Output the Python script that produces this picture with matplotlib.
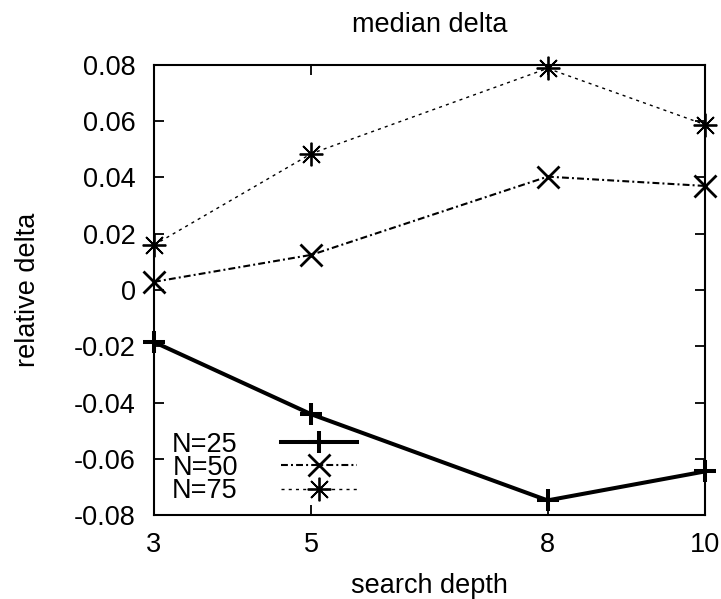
import numpy as np
import matplotlib.pyplot as plt
from matplotlib.ticker import FuncFormatter

plt.rcParams['font.family'] = ['Liberation Sans', 'DejaVu Sans']
plt.rcParams['axes.unicode_minus'] = False

# search depth values on the x axis
depth = [3, 5, 8, 10]
# relative delta per N
n25 = [-0.0185, -0.0442, -0.0748, -0.0645]
n50 = [0.0029, 0.0125, 0.0403, 0.0370]
n75 = [0.0160, 0.0485, 0.0788, 0.0588]
labels = ['N=25', 'N=50', 'N=75']
yticks = [-0.08, -0.06, -0.04, -0.02, 0, 0.02, 0.04, 0.06, 0.08]

FS = 19.5

fig = plt.figure(figsize=(7.21, 5.99), dpi=100)
ax = fig.add_axes([0.2136, 0.1402, 0.7642, 0.7513])

ax.plot(depth, n25, color='black', lw=2.9, marker='+', ms=16.5, mew=2.9,
        label=labels[0], clip_on=False)
ax.plot(depth, n50, color='black', lw=1.5, marker='x', ms=16, mew=2,
        dashes=[3.3, 1.5, 0.95, 1.5], label=labels[1], clip_on=False)
ax.plot(depth, n75, color='black', lw=1, marker=(8, 2, 0), ms=17, mew=1.3,
        dashes=[2.2, 3], label=labels[2], clip_on=False)

ax.set_xlim(3, 10)
ax.set_ylim(-0.08, 0.08)
ax.set_xticks(depth)
ax.set_yticks(yticks)
ax.yaxis.set_major_formatter(FuncFormatter(lambda v, p: '%g' % round(v, 4)))
ax.tick_params(direction='in', length=7, width=1.3, top=True, right=True,
               labelsize=FS)
ax.tick_params(axis='y', pad=13)
ax.tick_params(axis='x', pad=12)
for s in ax.spines.values():
    s.set_linewidth(1.5)

ax.set_title('median delta', fontsize=FS, pad=24)
ax.set_xlabel('search depth', fontsize=FS, labelpad=11)
ax.set_ylabel('relative delta', fontsize=FS, labelpad=24)

ax.legend(loc='lower left', bbox_to_anchor=(0.033, 0.024), frameon=False,
          markerfirst=False, fontsize=FS, handlelength=2.8,
          handletextpad=1.6, labelspacing=-0.1, borderaxespad=0,
          borderpad=0, alignment='left')

fig.savefig('out.png', dpi=100)
